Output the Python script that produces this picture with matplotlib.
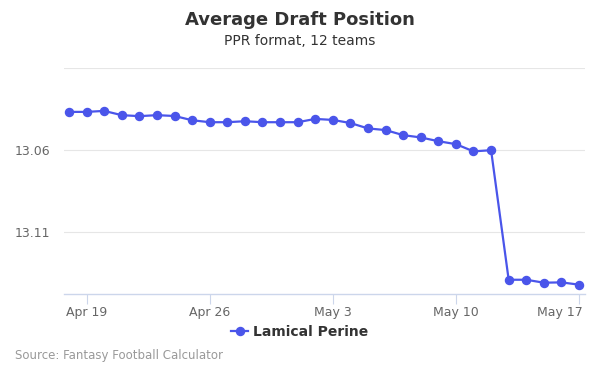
import matplotlib
matplotlib.use("Agg")
import matplotlib.pyplot as plt
import matplotlib.dates as mdates
import matplotlib.transforms as mtransforms
import datetime as dt
from matplotlib.lines import Line2D

dates = [dt.date(2020, 4, 18) + dt.timedelta(days=i) for i in range(30)]
adp = [13.0368, 13.0368, 13.0362, 13.0388, 13.0394, 13.0388, 13.0393, 13.0419,
       13.0431, 13.0431, 13.0425, 13.0431, 13.0431, 13.0431, 13.0411, 13.0417,
       13.0436, 13.0469, 13.0479, 13.0510, 13.0524, 13.0547, 13.0565, 13.0609,
       13.0602, 13.1393, 13.1393, 13.1411, 13.1409, 13.1423]
series_name = "Lamical Perine"
y_ticks = [13.01, 13.06, 13.11]
y_tick_labels = ["", "13.06", "13.11"]
x_ticks = [dt.date(2020, 4, 19), dt.date(2020, 4, 26), dt.date(2020, 5, 3),
           dt.date(2020, 5, 10), dt.date(2020, 5, 17)]
x_tick_labels = ["Apr 19", "Apr 26", "May 3", "May 10", "May 17"]

color = "#4a55ea"

fig = plt.figure(figsize=(6, 3.75), dpi=100)
ax = fig.add_axes([64/600, 81/375, 521/600, 226/375])

ax.plot(dates, adp, color=color, lw=1.6, marker="o", markersize=5.8, zorder=3)

ax.set_ylim(13.148, 13.0115)
ax.set_yticks(y_ticks)
ax.set_yticklabels(y_tick_labels)
x0 = mdates.date2num(dates[0]) - 0.284
x1 = mdates.date2num(dates[-1]) + 0.34
ax.set_xlim(x0, x1)
ax.set_xticks([mdates.date2num(d) for d in x_ticks])
ax.set_xticklabels(x_tick_labels)

ax.grid(axis="y", color="#e6e6e6", lw=0.8)
ax.set_axisbelow(True)
for s in ["top", "right", "left"]:
    ax.spines[s].set_visible(False)
ax.spines["bottom"].set_color("#ccd6eb")
ax.spines["bottom"].set_linewidth(1)
ax.tick_params(axis="y", length=0, labelsize=9, labelcolor="#666666", pad=10)
ax.tick_params(axis="x", length=7, color="#ccd6eb", labelsize=9, labelcolor="#666666", pad=1.5)

last = ax.get_xticklabels()[-1]
last.set_horizontalalignment("right")
last.set_transform(last.get_transform() + mtransforms.ScaledTranslation(4/100, 0, fig.dpi_scale_trans))

fig.text(0.5, 1 - 20/375, "Average Draft Position", ha="center", va="center",
         fontsize=13, fontweight="bold", color="#333333")
fig.text(0.5, 1 - 41/375, "PPR format, 12 teams", ha="center", va="center",
         fontsize=10, color="#333333")
fig.text(15/600, 1 - 356/375, "Source: Fantasy Football Calculator", ha="left", va="center",
         fontsize=8.5, color="#999999")

handle = Line2D([], [], color=color, lw=1.6, marker="o", markersize=5.8)
leg = fig.legend([handle], [series_name], loc="center", bbox_to_anchor=(300/600, 1 - 332/375),
                 frameon=False, handlelength=1.2, handletextpad=0.4,
                 prop={"size": 10, "weight": "bold"})
for t in leg.get_texts():
    t.set_color("#333333")

fig.savefig("out.png", dpi=100)
